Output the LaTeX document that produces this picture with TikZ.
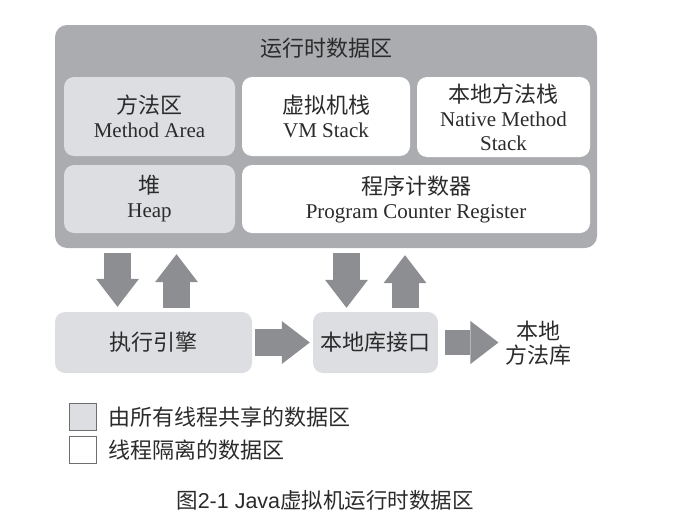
\documentclass[tikz,border=0pt]{standalone}
\usepackage{fontspec}
\setmainfont{Liberation Serif}
\setsansfont{Liberation Sans}
\newfontfamily\cjk{Noto Sans CJK SC}
\newcommand{\zh}{\cjk\fontsize{22}{24}\selectfont}
\usetikzlibrary{arrows.meta,calc,positioning}
\definecolor{areagray}{HTML}{AAACAF}
\definecolor{sharedgray}{HTML}{DCDEE1}
\definecolor{arrowgray}{HTML}{8D8E92}
\definecolor{textgray}{HTML}{2B2B2B}
\definecolor{keyborder}{HTML}{6E6E6E}

\begin{document}
\begin{tikzpicture}[x=1pt, y=-1pt,
    every node/.style={text=textgray, font=\fontsize{21}{24}\selectfont, align=center},
    cjknode/.style={font=\zh},
    shared/.style={rectangle, rounded corners=10pt, fill=sharedgray, inner sep=0pt},
    private/.style={rectangle, rounded corners=10pt, fill=white, inner sep=0pt},
    keybox/.style={draw=keyborder, line width=1pt, minimum size=27pt, inner sep=0pt},
    blockarrow/.style={draw=arrowgray, line width=27pt, -{Triangle[width=43pt, length=28pt, line width=0pt]}}]
    \useasboundingbox (0,0) rectangle (698,530);

    % Runtime data area
    \node[rectangle, rounded corners=12pt, fill=areagray, minimum width=542pt, minimum height=223pt] (rda) at (326,136.5) {};
    \node[cjknode] (rdatitle) at (326,48) {运行时数据区};

    % Areas inside
    \node[shared, minimum width=171pt, minimum height=79pt] (method) at (149.5,116.5) {{\zh 方法区}\\Method Area};
    \node[private, minimum width=168pt, minimum height=79pt] (vmstack) at (326,116.5) {{\zh 虚拟机栈}\\VM Stack};
    \node[private, minimum width=173pt, minimum height=80pt] (nativestack) at (503.5,117) {{\zh 本地方法栈}\\Native Method\\Stack};
    \node[shared, minimum width=171pt, minimum height=68pt] (heap) at (149.5,199) {{\zh 堆}\\Heap};
    \node[private, minimum width=348pt, minimum height=68pt] (pcr) at (416,199) {{\zh 程序计数器}\\Program Counter Register};

    % Engine, interface, libraries
    \node[shared, cjknode, minimum width=197pt, minimum height=61pt] (engine) at (153.5,342.5) {执行引擎};
    \node[shared, cjknode, minimum width=125pt, minimum height=61pt] (jni) at (375.5,342.5) {本地库接口};
    \node[cjknode] (natlib) at (538,343) {本地\\方法库};

    % Connections
    \draw[blockarrow] ($(engine.north |- rda.south)+(-36,5)$) -- ($(engine.north)+(-36,-5)$);
    \draw[blockarrow] ($(engine.north)+(23,-4)$) -- ($(engine.north |- rda.south)+(23,6)$);
    \draw[blockarrow] ($(jni.north |- rda.south)+(-29,5)$) -- ($(jni.north)+(-29,-4)$);
    \draw[blockarrow] ($(jni.north)+(29.5,-4)$) -- ($(jni.north |- rda.south)+(29.5,7)$);
    \draw[blockarrow] ($(engine.east)+(3,0)$) -- ($(jni.west)+(-3,0)$);
    \draw[blockarrow, line width=25pt] ($(jni.east)+(7,0)$) -- ($(jni.east -| natlib.west)+(-3,0)$);

    % Legend
    \node[keybox, fill=sharedgray] (keyshared) at (82.5,417) {};
    \node[keybox, fill=white] (keyprivate) at (82.5,450) {};
    \node[cjknode, anchor=west] (keysharedtext) at ([xshift=8pt]keyshared.east) {由所有线程共享的数据区};
    \node[cjknode, anchor=west] (keyprivatetext) at ([xshift=8pt]keyprivate.east) {线程隔离的数据区};

    % Caption
    \node[font=\fontsize{21.5}{24}\selectfont\sffamily] (caption) at (325,500) {{\cjk 图}2-1 Java{\cjk 虚拟机运行时数据区}};
\end{tikzpicture}
\end{document}
